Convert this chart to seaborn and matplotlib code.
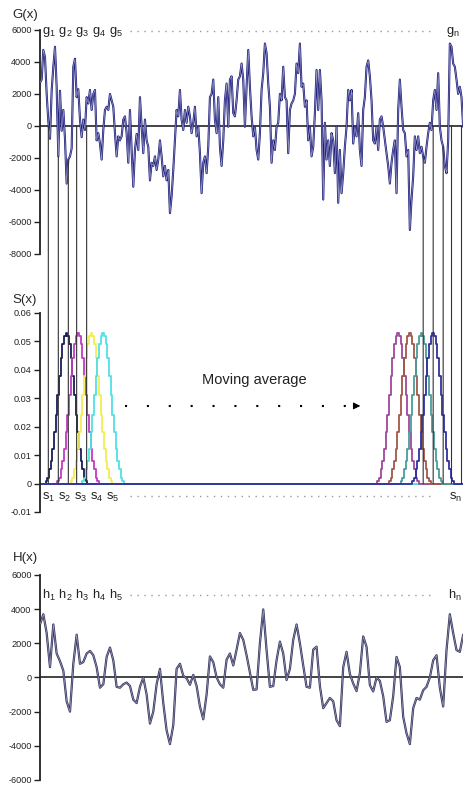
import numpy as np
import seaborn as sns
import matplotlib.pyplot as plt
from matplotlib.patches import ConnectionPatch

# G(x): raw signal (one value every ~1.7 px)
g_values = [
    2700, 2900, 4750, 4300, 2000, 300, -800, 2200, 3700, 4950,
    2450, -1900, 2200, -300, 1000, -800, -3600, -2100, -1900, -1400,
    3700, 4200, 1800, 2300, 400, -700, 400, -250, 1800, 1400,
    2250, 1000, 2000, 2250, -900, -450, -1100, -2100, -250, 1000,
    1200, 1000, 2000, 1600, 1200, -450, -1900, -650, -900, -650,
    400, 600, -450, -2300, 1000, -1500, -3800, -1500, -500, -1500,
    1800, -50, -1700, 400, -900, -1300, -3400, -2300, -2500, -1900,
    -2750, -2100, -900, -1900, -3150, -2500, -3400, -2750, -5450, -4400,
    -2750, -900, 1000, 600, 2250, 400, -250, 1000, 200, 1200,
    600, -450, 200, 1200, -650, -50, -1700, -4200, -2300, -1900,
    -2950, -1300, 1800, 2000, 2900, 400, -450, 1800, -1300, -2500,
    -900, 1600, 2650, -50, 2900, 3100, 800, 600, 1600, 2900,
    3100, 3900, 2900, -50, 2450, 4750, 2450, 600, -650, -50,
    -1500, -2100, -450, 2250, 3300, 5150, 4550, 2650, 1200, -2300,
    -900, -1500, -50, 200, 2000, 1600, 3700, 1800, 1600, -1700,
    1000, 1400, 1600, 2000, 3900, 3300, 5150, 2450, 2650, 1200,
    1600, -900, -50, -1900, -1300, 800, 3500, 1000, 3500, 1600,
    -4600, 200, -2100, -900, -2500, -450, -900, -2950, -50, -4800,
    -1500, -4200, -2950, -1300, -50, 2250, 1600, 2250, -1100, -50,
    -650, 800, -1500, -2500, 1000, 1800, 3700, 4100, 3100, 1600,
    -900, -1100, -50, -1500, 400, 600, -50, -900, -1700, -2500,
    -3600, -2300, -1500, -900, -4200, 1000, 2900, 1200, -250, -450,
    -1900, -1500, -6500, -4600, -3150, -650, -1500, -650, -1700, -1300,
    -1900, -2300, -1300, -450, 200, -250, 1600, 2250, 1000, 3300,
    -50, -900, -1300, -2500, -2950, -900, 5150, 4950, 3900, 3700,
    2900, 2000, 2450, 1800, -50, 2450,
]

# S(x): half of the smoothing window (peak first), in the same index units
kernel_half = [0.053, 0.052, 0.049, 0.044, 0.038, 0.031, 0.024,
               0.018, 0.012, 0.008, 0.005, 0.002, 0.001]
kernel_centers = [16, 23, 31, 38, 215, 222, 229, 236]
kernel_colors = ["#1c1c5c", "#c03cc0", "#f2ee50", "#50e0e6",
                 "#a0489a", "#a05848", "#4a9c9a", "#3030a0"]

# positions of the g_i / g_n window lines
window_left = [5, 11, 17, 22, 28]
window_right = [230, 236, 242, 247, 253]

# H(x): smoothed signal (one value every ~3.3 px)
h_values = [
    3100, 3700, 2600, 600, 3100, 1400, 950, 400, -1400, -2000,
    800, 2500, 800, 900, 1400, 1550, 1300, 600, -600, -400,
    1200, 1750, 1000, -550, -600, -400, -300, -500, -1300, -1500,
    -550, 0, -1000, -2700, -2000, -400, 500, -1500, -3100, -3900,
    -2800, 500, 800, 100,
    -50, -430, 150, -500, -1700, -2450, -1000, 1230, 900, 0,
    -400, -600, 1040, 1400, 700, 1630, 2600, 2200, 1300, 300,
    -725, -700, 2000, 3980, 1600, -550, -500, 1000, 2100, 1400,
    -150, 500, 2200, 3100, 2000, 700, -550, -600, 1630, 1800,
    -500, -1800,
    -1500, -1200, -1400, -2500, -2850, 600, 1500, 200, -350, -800,
    250, 2400, 1800, -450, -820, 0, -200, -1100, -2600, -2500,
    -1100, 1200, 600, -2300, -3270, -3900, -1800, -1200, -1300, -750,
    -550, 0, 1000, 1300, -600, -1700, 1600, 3700, 2600, 1600,
    1500, 2500,
]

g_ticks = [-8000, -6000, -4000, -2000, 0, 2000, 4000, 6000]
s_ticks = [-0.01, 0, 0.01, 0.02, 0.03, 0.04, 0.05, 0.06]
h_ticks = [-6000, -4000, -2000, 0, 2000, 4000, 6000]

sns.set_style("white")
plt.rcParams["font.family"] = ["Liberation Sans", "DejaVu Sans"]

g_x = np.arange(len(g_values))
h_x = np.arange(len(h_values)) * 2
x_max = 254.5

fig = plt.figure(figsize=(4.64, 7.88), dpi=100)
ax_g = fig.add_axes([0.0862, 0.6777, 0.9138, 0.2843])
ax_s = fig.add_axes([0.0862, 0.3503, 0.9138, 0.2525])
ax_h = fig.add_axes([0.0862, 0.0102, 0.9138, 0.2602])


def style_axis(ax, ticks, labels):
    ax.set_xlim(0, x_max)
    ax.set_ylim(ticks[0], ticks[-1])
    ax.set_yticks(ticks)
    ax.set_yticklabels(labels, fontsize=6.6, color="#222222")
    ax.set_xticks([])
    for side in ["top", "right", "bottom"]:
        ax.spines[side].set_visible(False)
    ax.spines["left"].set_color("#222222")
    ax.spines["left"].set_linewidth(1.3)
    ax.tick_params(axis="y", direction="out", length=4, width=1,
                   color="#222222", pad=2, left=True)
    ax.set_xlabel("")
    ax.set_ylabel("")
    ax.patch.set_alpha(0)


# G(x)
ax_g.axhline(0, color="#111111", lw=1.1, zorder=1)
sns.lineplot(x=g_x, y=g_values, ax=ax_g, color="#1a1a78", lw=1.5, zorder=2)
sns.lineplot(x=g_x, y=g_values, ax=ax_g, color="#9898c8", lw=0.5, zorder=3)
style_axis(ax_g, g_ticks, [str(t) for t in g_ticks])

# S(x): the shifted windows
for c, col in zip(kernel_centers, kernel_colors):
    s = np.zeros(len(g_values))
    for k, v in enumerate(kernel_half):
        s[c + k] = v
        s[c - k] = v
    sns.lineplot(x=g_x, y=s, ax=ax_s, color=col, lw=1.3,
                 drawstyle="steps-mid")
style_axis(ax_s, s_ticks, ["-0.01" if t < 0 else ("0" if t == 0 else f"{t:.2f}") for t in s_ticks])

# H(x)
ax_h.axhline(0, color="#111111", lw=1.1, zorder=1)
sns.lineplot(x=h_x, y=h_values, ax=ax_h, color="#34345e", lw=1.6, zorder=2)
sns.lineplot(x=h_x, y=h_values, ax=ax_h, color="#9a9ab8", lw=0.5, zorder=3)
style_axis(ax_h, h_ticks, [str(t) for t in h_ticks])

# window lines from G(x) down to S(x)
for xi in window_left + window_right:
    top = min(g_values[xi], 0)
    con = ConnectionPatch(xyA=(xi, top), coordsA=ax_g.transData,
                          xyB=(xi, 0), coordsB=ax_s.transData,
                          color="#333333", lw=0.8)
    fig.add_artist(con)

# panel titles
fig.text(0.026, 0.981, "G(x)", fontsize=9.5, va="center")
fig.text(0.026, 0.619, "S(x)", fontsize=9.5, va="center")
fig.text(0.028, 0.292, "H(x)", fontsize=9.5, va="center")

# element labels with dotted continuation
for ax, letter, y, x_end in [(ax_g, "g", 0.99, 0.957), (ax_s, "s", 0.075, 0.965),
                             (ax_h, "h", 0.898, 0.962)]:
    ax.text(0.005, y, r"$\mathregular{%s_1\ %s_2\ %s_3\ %s_4\ %s_5}$" % ((letter,) * 5),
            transform=ax.transAxes, fontsize=9.3, va="center", ha="left",
            color="#222222", clip_on=False)
    ax.plot([0.212, 0.928], [y + 0.004, y + 0.004], transform=ax.transAxes,
            color="#999999", lw=1.0, ls=(0, (1, 4)), clip_on=False)
    ax.text(x_end, y, r"$\mathregular{%s_n}$" % letter, transform=ax.transAxes,
            fontsize=9.3, va="center", ha="left", color="#222222", clip_on=False)

# moving average note
ax_s.text(0.505, 0.665, "Moving average", transform=ax_s.transAxes,
          fontsize=10.5, ha="center", va="center", color="#222222")
ax_s.plot([0.2, 0.735], [0.533, 0.533], transform=ax_s.transAxes,
          color="black", lw=1.5, ls=(0, (1, 9.5)))
ax_s.annotate("", xy=(0.762, 0.533), xytext=(0.735, 0.533),
              xycoords="axes fraction", textcoords="axes fraction",
              arrowprops=dict(arrowstyle="-|>", color="black", lw=0.8,
                              mutation_scale=10))

fig.savefig("out.png", dpi=100)
